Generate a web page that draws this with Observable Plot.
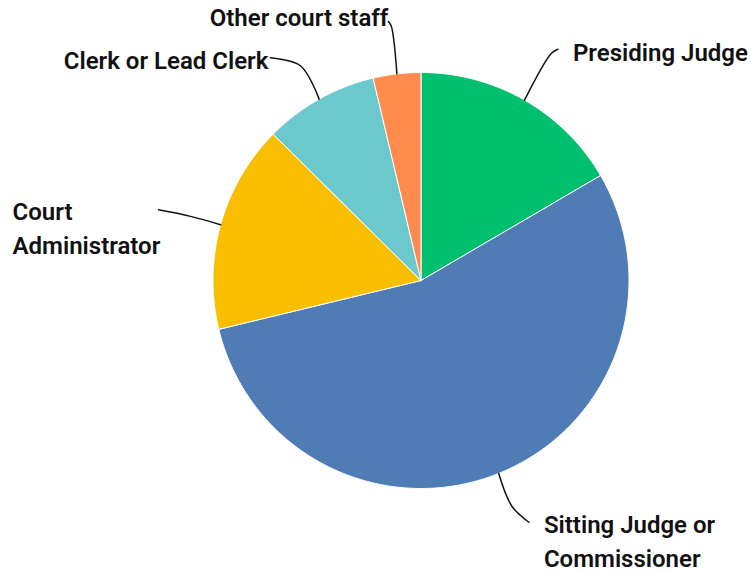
<!DOCTYPE html>
<html>
<head>
<meta charset="utf-8">
<script src="https://cdn.jsdelivr.net/npm/d3@7"></script>
<script src="https://cdn.jsdelivr.net/npm/@observablehq/plot@0.6"></script>
<style>
  html, body { margin: 0; padding: 0; background: #ffffff; }
  #chart svg { display: block; }
</style>
</head>
<body>
<div id="chart"></div>
<script>
// ---- data ----
const categories = ["Presiding Judge", "Sitting Judge or Commissioner", "Court Administrator", "Clerk or Lead Clerk", "Other court staff"];
const shares = [16.6, 54.7, 16.2, 8.9, 3.7];
const colors = ["#00BF6F", "#507CB6", "#F9BE00", "#6BC8CD", "#FF8B4F"];
const labelTexts = ["Presiding Judge", "Sitting Judge or\nCommissioner", "Court\nAdministrator", "Clerk or Lead Clerk", "Other court staff"];

// ---- layout (pixels) ----
const W = 751, H = 572, CX = 420.5, CY = 280, R = 208;
const FS = 24;
const TEXT_SHIFT = -8;
const leaderLayout = [
  {k: 1.26, end: [6.5, -4], text: [15, -4], anchor: "start"},
  {k: 1.17, end: [17, 16], text: [15, -5], anchor: "start"},
  {k: 1.15, end: [-32, -6.5], text: [-146, -5.7], anchor: "start"},
  {k: 1.184, end: [-30, -8], text: [-2, -5], anchor: "end"},
  {k: 1.23, end: [-3, -5], text: [0, -11], anchor: "end"}
];

// ---- geometry in unit (data) space ----
const arcs = d3.pie().sort(null).startAngle(0).endAngle(2 * Math.PI).value(d => d)(shares);
const sliceRows = [];
arcs.forEach((a, i) => {
  const cat = categories[i];
  sliceRows.push({cat, x: 0, y: 0});
  const n = Math.max(2, Math.ceil((a.endAngle - a.startAngle) / (Math.PI / 360)));
  for (let j = 0; j <= n; j++) {
    const t = a.startAngle + (a.endAngle - a.startAngle) * j / n;
    sliceRows.push({cat, x: Math.sin(t), y: Math.cos(t)});
  }
  sliceRows.push({cat, x: 0, y: 0});
});

const leaderRows = [];
const labelRows = [];
arcs.forEach((a, i) => {
  const cat = categories[i];
  const L = leaderLayout[i];
  const mid = (a.startAngle + a.endAngle) / 2;
  const ux = Math.sin(mid), uy = Math.cos(mid);
  const edge = {x: ux, y: uy};
  const elbow = {x: ux * L.k, y: uy * L.k};
  const end = {x: elbow.x + L.end[0] / R, y: elbow.y - L.end[1] / R};
  leaderRows.push({cat, ...edge}, {cat, ...elbow}, {cat, ...end});
  labelRows.push({cat, text: labelTexts[i], anchor: L.anchor,
    x: end.x + L.text[0] / R, y: end.y - (L.text[1] + TEXT_SHIFT) / R});
});

const font = "Roboto, 'Open Sans', sans-serif";
const textOpts = {x: "x", y: "y", text: "text", lineAnchor: "top", lineHeight: 1.4, fontSize: FS, fontWeight: 600, fill: "#111111", fontFamily: font};
const chart = Plot.plot({
  width: W,
  height: H,
  margin: 0,
  x: {domain: [-1, 1], range: [CX - R, CX + R], axis: null},
  y: {domain: [-1, 1], range: [CY + R, CY - R], axis: null},
  color: {domain: categories, range: colors},
  style: {background: "#ffffff", fontFamily: font},
  marks: [
    Plot.line(sliceRows, {x: "x", y: "y", z: "cat", fill: "cat", stroke: "#ffffff", strokeWidth: 1, strokeLinejoin: "round"}),
    Plot.line(leaderRows, {x: "x", y: "y", z: "cat", stroke: "#111111", strokeWidth: 1.5, curve: "catmull-rom"}),
    Plot.text(labelRows.filter(d => d.anchor === "start"), {...textOpts, textAnchor: "start"}),
    Plot.text(labelRows.filter(d => d.anchor === "end"), {...textOpts, textAnchor: "end"})
  ]
});
document.getElementById("chart").appendChild(chart);
</script>
</body>
</html>
